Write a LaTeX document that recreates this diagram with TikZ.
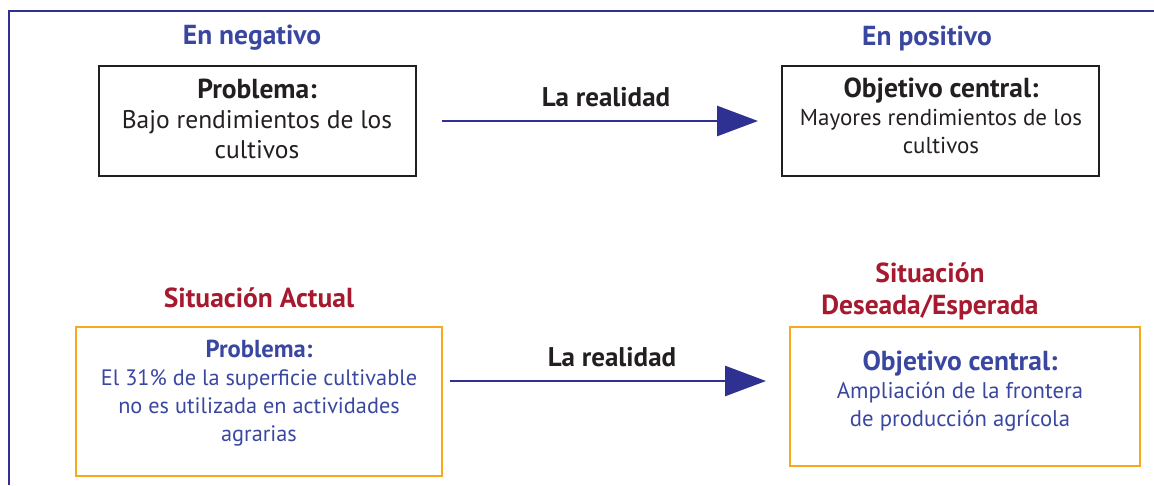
\documentclass[tikz,border=0pt]{standalone}
\usepackage{fontspec}
\setmainfont{PT Sans}
\usetikzlibrary{arrows.meta}
\definecolor{frameblue}{HTML}{2E3192}
\definecolor{headblue}{HTML}{3A47A0}
\definecolor{headred}{HTML}{A6192E}
\definecolor{boxorange}{HTML}{F7A81B}
\definecolor{ink}{HTML}{231F20}
\newcommand{\ttl}[2]{{\fontsize{#1}{28}\selectfont\bfseries #2}}
\begin{document}
\begin{tikzpicture}[x=1pt,y=-1pt,
  heading/.style={font=\fontsize{27.5}{30}\selectfont\bfseries, text=headblue},
  redhead/.style={font=\fontsize{27.5}{32}\selectfont\bfseries, text=headred, align=center},
  blackbox/.style={draw=ink, line width=2.8pt, text=ink},
  orangebox/.style={draw=boxorange, line width=2.8pt},
  boxtext/.style={align=center, text=ink},
  bluetext/.style={align=center, text=headblue},
  arrowlabel/.style={font=\fontsize{27}{30}\selectfont\bfseries, text=ink},
  bigarrow/.style={draw=frameblue, line width=2.8pt, -{Triangle[length=41pt,width=30pt]}}
]
\useasboundingbox (0,0) rectangle (1154,485);
% frame
\draw[frameblue, line width=2pt] (9,485) -- (9,11) -- (1154,11);

% top row
\node[heading] (hneg) at (252,38) {En negativo};
\node[heading] (hpos) at (927,38) {En positivo};
\draw[blackbox] (99,66) rectangle (416,176);
\node[minimum width=317pt, minimum height=110pt] (b1) at (257.5,121) {};
\node[boxtext, font=\fontsize{25.5}{30}\selectfont] (t1) at (257,119) {\ttl{27.5}{Problema:}\\Bajo rendimientos de los\\cultivos};
\draw[blackbox] (782,66) rectangle (1099,176);
\node[minimum width=317pt, minimum height=110pt] (b2) at (940.5,121) {};
\node[boxtext, font=\fontsize{23}{28}\selectfont] (t2) at (941,116) {\ttl{27.5}{Objetivo central:}\\Mayores rendimientos de los\\cultivos};
\coordinate (a1s) at (442,121);
\coordinate (a1e) at (758,121);
\draw[bigarrow] (a1s) -- (a1e);
\node[arrowlabel] (l1) at (606,97) {La realidad};

% bottom row
\node[redhead] (hact) at (259,298) {Situación Actual};
\node[redhead] (hdes) at (930,291) {Situación\\Deseada/Esperada};
\draw[orangebox] (76,327) rectangle (442,476);
\node[minimum width=366pt, minimum height=149pt] (b3) at (259,401.5) {};
\node[bluetext, font=\fontsize{22.3}{28}\selectfont] (t3) at (259,393) {\ttl{24.6}{Problema:}\\El 31\% de la superficie cultivable\\no es utilizada en actividades\\agrarias};
\draw[orangebox] (790,327) rectangle (1140,466);
\node[minimum width=350pt, minimum height=139pt] (b4) at (965,396.5) {};
\node[bluetext, font=\fontsize{22.7}{28}\selectfont] (t4) at (960,391) {\ttl{27.5}{Objetivo central:}\\Ampliación de la frontera\\de producción agrícola};
\coordinate (a2s) at (450,381);
\coordinate (a2e) at (766,381);
\draw[bigarrow] (a2s) -- (a2e);
\node[arrowlabel] (l2) at (612,357) {La realidad};
\end{tikzpicture}
\end{document}
